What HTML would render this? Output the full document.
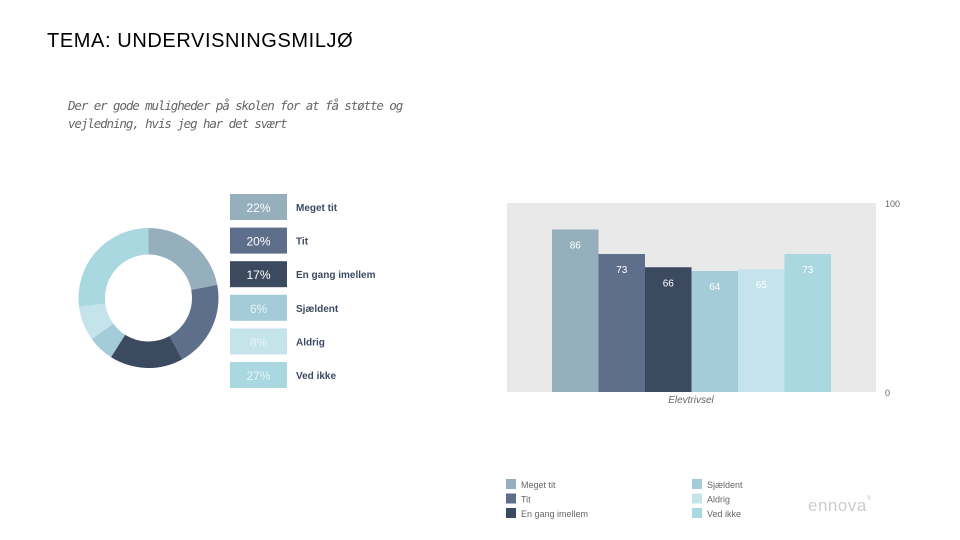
<!DOCTYPE html>
<html><head><meta charset="utf-8"><style>
body{margin:0;width:960px;height:540px;background:#fff;overflow:hidden;font-family:"Liberation Sans","DejaVu Sans",sans-serif;position:relative}
.abs{position:absolute}
</style></head><body>
<div class="abs" style="left:47px;top:30px;font-size:20px;color:#000;letter-spacing:0.6px">TEMA: UNDERVISNINGSMILJØ</div>
<div class="abs" style="left:68px;top:97px;font-size:12.5px;line-height:18px;color:#666;font-style:italic;font-family:'DejaVu Sans Mono','Liberation Mono',monospace;letter-spacing:-1.1px">Der er gode muligheder på skolen for at få støtte og<br>vejledning, hvis jeg har det svært</div>
<svg class="abs" style="left:0;top:0" width="960" height="540" id="svg"></svg>
<div class="abs" style="left:808px;top:496px;font-size:17px;color:#ccc;letter-spacing:0.5px">ennova<span style="font-size:6px;vertical-align:top">®</span></div>
<script>
const categories=["Meget tit","Tit","En gang imellem","Sjældent","Aldrig","Ved ikke"];
const shares=[22,20,17,6,8,27];
const barValues=[86,73,66,64,65,73];
const yTicks=["100","0"];
const colors=["#96afbc","#5e6f8c","#3c4a60","#a3cbd8","#c4e3ea","#a9d8e1"];
const NS="http://www.w3.org/2000/svg";
const svg=document.getElementById('svg');
function mk(t,a,txt){const e=document.createElementNS(NS,t);for(const k in a)e.setAttribute(k,a[k]);if(txt!==undefined)e.textContent=txt;svg.appendChild(e);return e;}
// donut
const cx=148.5,cy=298,R=70,r=43.5;
let tot=shares.reduce((a,b)=>a+b,0),acc=0;
shares.forEach((v,i)=>{
 const a0=acc/tot*2*Math.PI-Math.PI/2;acc+=v;const a1=acc/tot*2*Math.PI-Math.PI/2;
 const lg=(a1-a0)>Math.PI?1:0;
 const p=`M${cx+R*Math.cos(a0)},${cy+R*Math.sin(a0)} A${R},${R} 0 ${lg} 1 ${cx+R*Math.cos(a1)},${cy+R*Math.sin(a1)} L${cx+r*Math.cos(a1)},${cy+r*Math.sin(a1)} A${r},${r} 0 ${lg} 0 ${cx+r*Math.cos(a0)},${cy+r*Math.sin(a0)} Z`;
 const e=mk('path',{d:p,fill:colors[i]});
 
 
 const bx=mk('rect',{x:230,y:194+i*33.6,width:57,height:26,fill:colors[i]});
 
 
 const t=mk('text',{x:258.5,y:212+i*33.6,'text-anchor':'middle','font-size':12,fill:i>=3?'#e8f4f7':'#fff'},v+'%');
 
 
 const l=mk('text',{x:296,y:211+i*33.6,'font-size':10,'font-weight':'bold',fill:'#3c4a60'},categories[i]);
 
 
});
// bar chart
const px0=507,px1=876,py0=203,py1=392;
const yS=v=>py1-(v/100)*(py1-py0);
const bg=mk('rect',{x:px0,y:py0,width:px1-px0,height:py1-py0,fill:'#e9e9e9'});


const bx0=552,bw=46.5;
barValues.forEach((v,i)=>{
 const b=mk('rect',{x:bx0+i*bw,y:yS(v),width:bw,height:py1-yS(v),fill:colors[i]});
 
 
 const t=mk('text',{x:bx0+i*bw+bw/2,y:yS(v)+19,'text-anchor':'middle','font-size':10,fill:'#fff'},v);
 
 
});
yTicks.forEach((s,i)=>{
 const t=mk('text',{x:885,y:yS(+s)+4,'font-size':9,fill:'#666'},s);
 
 
});
const xl=mk('text',{x:691,y:403,'text-anchor':'middle','font-size':10,'font-style':'italic',fill:'#666'},'Elevtrivsel');


// bottom legend
categories.forEach((c,i)=>{
 const col=i<3?0:1,row=i%3;
 const x=col?692:506,y=479+row*14.5;
 const s=mk('rect',{x:x,y:y,width:10,height:10,fill:colors[i]});
 
 
 const t=mk('text',{x:x+15,y:y+9,'font-size':9,fill:'#666'},c);
 
 
});
</script>
</body></html>
